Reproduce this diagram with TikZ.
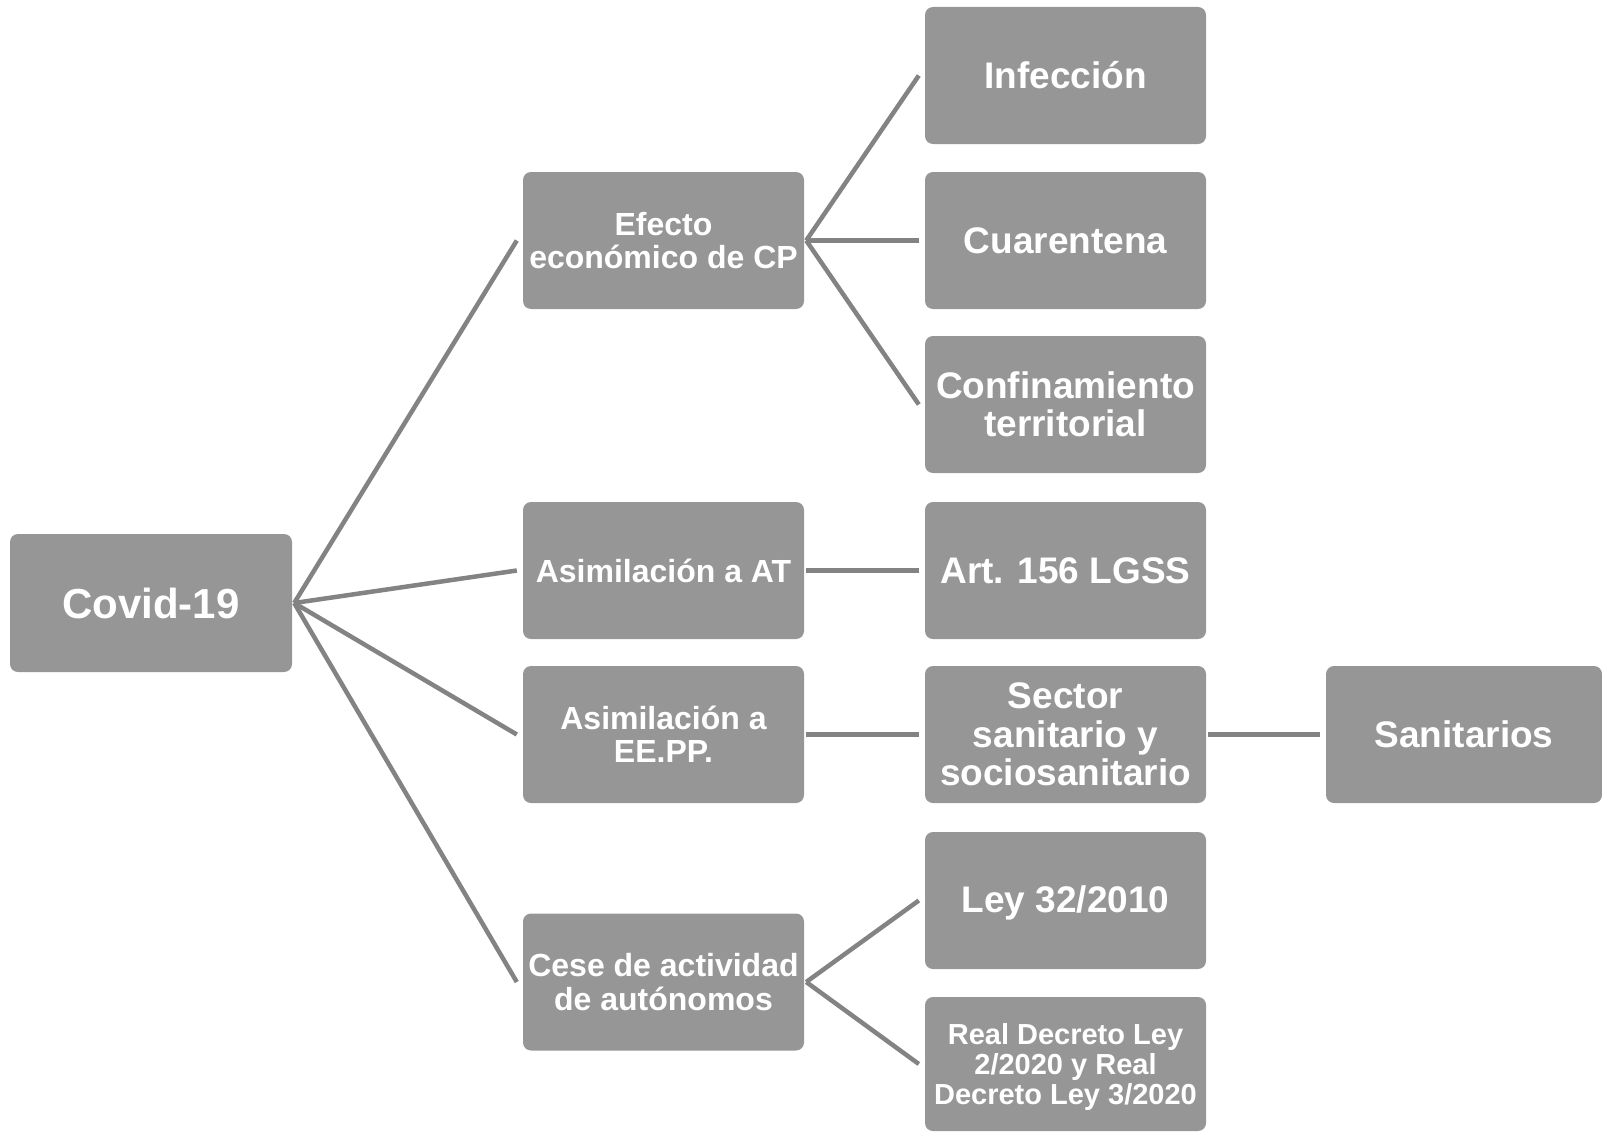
\documentclass[tikz,border=0pt]{standalone}
\usepackage{fontspec}
\setmainfont{Liberation Sans}
\definecolor{boxgray}{HTML}{969696}
\definecolor{linegray}{HTML}{838383}
\begin{document}
\begin{tikzpicture}[x=1pt,y=-1pt,
  box/.style={draw=none,fill=boxgray,rounded corners=8pt,minimum width=281pt,minimum height=137pt,
    text=white,align=center,inner sep=0pt,font=\bfseries},
  fbig/.style={font=\bfseries\fontsize{42}{46}\selectfont},
  fmid/.style={font=\bfseries\fontsize{37}{38.5}\selectfont},
  fsml/.style={font=\bfseries\fontsize{32}{33.5}\selectfont},
  ftiny/.style={font=\bfseries\fontsize{29}{30}\selectfont},
  conn/.style={draw=linegray,line width=4.5pt}]
\useasboundingbox (0,0) rectangle (1602,1132);
% root
\node[box,fbig,minimum width=282pt,minimum height=138pt] (covid) at (151,603) {Covid-19};
% column 2
\node[box,fsml] (efecto) at (663.5,240.5) {Efecto\\econ\'omico de CP};
\node[box,fsml] (at) at (663.5,570.5) {Asimilaci\'on a AT};
\node[box,fsml] (eepp) at (663.5,734.5) {Asimilaci\'on a\\EE.PP.};
\node[box,fsml] (cese) at (663.5,982) {Cese de actividad\\de aut\'onomos};
% column 3
\node[box,fmid] (infec) at (1065.5,75.5) {Infecci\'on};
\node[box,fmid] (cuar) at (1065.5,240.5) {Cuarentena};
\node[box,fmid] (conf) at (1065.5,404.5) {Confinamiento\\territorial};
\node[box,fmid] (art) at (1065.5,570.5) {Art. 156 LGSS};
\node[box,fmid] (sector) at (1065.5,734.5) {Sector\\sanitario y\\sociosanitario};
\node[box,fmid,text depth=2pt] (ley) at (1065.5,900.5) {Ley 32/2010};
\node[box,ftiny,minimum height=134pt] (rdl) at (1065.5,1064) {\rule{0pt}{0pt}};
\node[ftiny,text=white,align=center,inner sep=0pt] (rdltext) at ([yshift=-3pt]rdl.center) {Real Decreto Ley\\2/2020 y Real\\Decreto Ley 3/2020};
% column 4
\node[box,fmid,minimum width=276pt] (sanit) at (1464,734.5) {Sanitarios};
% connectors
\foreach \a/\b in {covid/efecto,covid/at,covid/eepp,covid/cese,
  efecto/infec,efecto/cuar,efecto/conf,at/art,eepp/sector,cese/ley,cese/rdl,sector/sanit}
  \draw[conn] ([xshift=2pt]\a.east) -- ([xshift=-6pt]\b.west);
\end{tikzpicture}
\end{document}
